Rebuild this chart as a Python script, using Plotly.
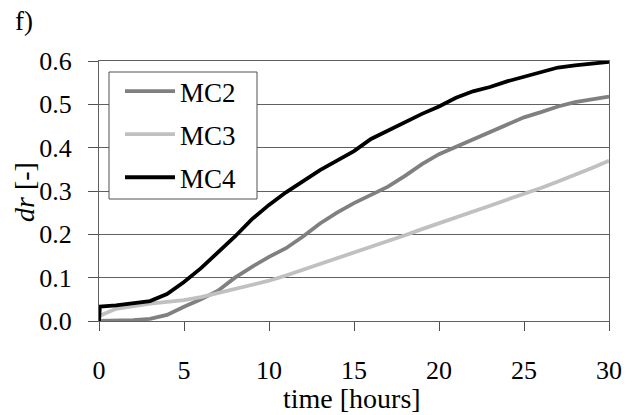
import plotly.graph_objects as go

time_h = [0, 0.05, 1, 2, 3, 4, 5, 6, 7, 8, 9, 10, 11, 12, 13, 14, 15, 16, 17, 18, 19,
          20, 21, 22, 23, 24, 25, 26, 27, 28, 29, 30]
mc2 = [0, 0, 0, 0.002, 0.005, 0.014, 0.033, 0.05, 0.07, 0.1, 0.125, 0.148, 0.168, 0.195,
       0.225, 0.25, 0.272, 0.29, 0.31, 0.335, 0.362, 0.385, 0.402, 0.42, 0.438, 0.455,
       0.47, 0.482, 0.495, 0.505, 0.512, 0.518]
mc3 = [0, 0.012, 0.028, 0.035, 0.04, 0.044, 0.048, 0.055, 0.064, 0.073, 0.083, 0.093,
       0.105, 0.118, 0.132, 0.145, 0.158, 0.171, 0.185, 0.198, 0.212, 0.225, 0.24, 0.253,
       0.266, 0.28, 0.293, 0.307, 0.322, 0.337, 0.353, 0.37]
mc4 = [0, 0.033, 0.036, 0.04, 0.046, 0.062, 0.09, 0.122, 0.158, 0.195, 0.235, 0.268,
       0.297, 0.322, 0.348, 0.37, 0.392, 0.42, 0.44, 0.46, 0.478, 0.495, 0.515, 0.53,
       0.54, 0.553, 0.563, 0.575, 0.585, 0.59, 0.595, 0.598]

series = [("MC2", mc2, "#808080"), ("MC3", mc3, "#c0c0c0"), ("MC4", mc4, "#000000")]
x_ticks = [0, 5, 10, 15, 20, 25, 30]
y_ticks = [0.0, 0.1, 0.2, 0.3, 0.4, 0.5, 0.6]
y_labels = ["0.0", "0.1", "0.2", "0.3", "0.4", "0.5", "0.6"]

FONT = "Liberation Serif"
FS = 27
TFS = 26
fig = go.Figure()
for name, vals, col in series:
    fig.add_trace(go.Scatter(x=time_h, y=vals, mode="lines", name=name, legendgroup=name,
                             line=dict(color=col, width=3.8)))

L, R, T, B = 99, 31, 61, 94
W, H = 640, 415
pw = W - L - R
ph = H - T - B


def px_x(p):
    return (p - L) / pw


def px_y(p):
    return 1 - (p - T) / ph


fig.update_layout(
    width=W, height=H,
    margin=dict(l=L, r=R, t=T, b=B),
    paper_bgcolor="white", plot_bgcolor="white",
    font=dict(family=FONT, size=FS, color="black"),
    showlegend=True,
    legend=dict(x=px_x(120), y=px_y(67), xanchor="left", yanchor="top",
                bgcolor="rgba(0,0,0,0)", borderwidth=0,
                font=dict(family=FONT, size=FS, color="black"), tracegroupgap=5,
                traceorder="grouped", itemwidth=50),
    xaxis=dict(range=[0, 30], tickvals=x_ticks, ticks="outside", ticklen=9,
               tickcolor="#505050", showline=True, linecolor="#606060", linewidth=1,
               mirror=True, showgrid=False, zeroline=False, ticklabelstandoff=17,
               tickfont=dict(family=FONT, size=TFS, color="black")),
    yaxis=dict(range=[0, 0.6], tickvals=y_ticks, ticktext=y_labels, ticks="outside",
               ticklen=10, tickcolor="#505050", showline=True, linecolor="#606060",
               linewidth=1, mirror=True, showgrid=True, gridcolor="#606060",
               gridwidth=1, zeroline=False, ticklabelstandoff=11,
               tickfont=dict(family=FONT, size=TFS, color="black")),
)
# legend frame
fig.add_shape(type="rect", xref="paper", yref="paper", layer="above",
              x0=px_x(109), x1=px_x(257), y0=px_y(199), y1=px_y(72),
              fillcolor="white", line=dict(color="#505050", width=1))
fig.add_annotation(text="time [hours]", xref="paper", yref="paper",
                   x=px_x(352), y=px_y(398), xanchor="center", yanchor="middle",
                   showarrow=False, font=dict(family=FONT, size=28, color="black"))
fig.add_annotation(text="<i>dr</i> [-]", xref="paper", yref="paper", textangle=-90,
                   x=px_x(24), y=px_y(192), xanchor="center", yanchor="middle",
                   showarrow=False, font=dict(family=FONT, size=28, color="black"))
fig.add_annotation(text="f)", xref="paper", yref="paper",
                   x=px_x(13), y=px_y(21), xanchor="left", yanchor="middle",
                   showarrow=False, font=dict(family=FONT, size=FS, color="black"))
fig.write_html("out.html")
